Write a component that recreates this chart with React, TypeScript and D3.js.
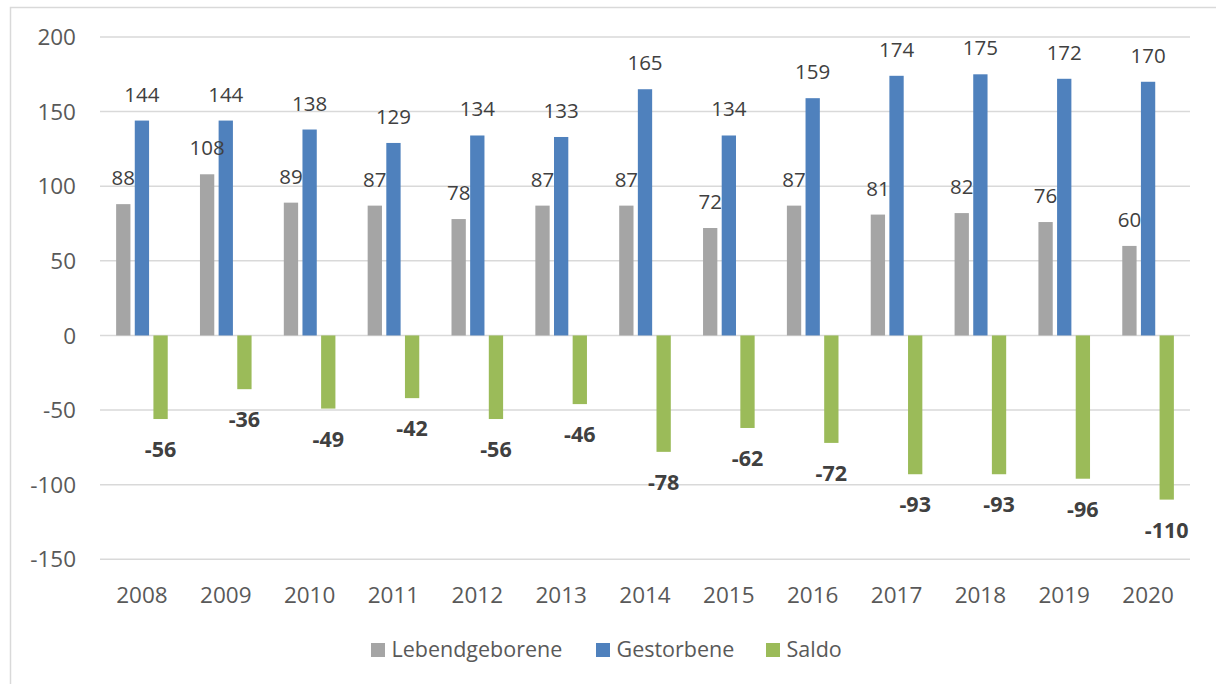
import React from 'react';
import * as d3 from 'd3';

const years = ['2008', '2009', '2010', '2011', '2012', '2013', '2014', '2015', '2016', '2017', '2018', '2019', '2020'];
const lebendgeborene = [88, 108, 89, 87, 78, 87, 87, 72, 87, 81, 82, 76, 60];
const gestorbene = [144, 144, 138, 129, 134, 133, 165, 134, 159, 174, 175, 172, 170];
const saldo = [-56, -36, -49, -42, -56, -46, -78, -62, -72, -93, -93, -96, -110];
const yTicks = [-150, -100, -50, 0, 50, 100, 150, 200];

const seriesNames = ['Lebendgeborene', 'Gestorbene', 'Saldo'];
const seriesColors = ['#A5A5A5', '#4F81BD', '#9BBB59'];
const seriesValues = [lebendgeborene, gestorbene, saldo];

const W = 1216;
const H = 684;
const font = '"Open Sans", "Liberation Sans", sans-serif';

export default function App() {
  const x = d3.scaleBand<string>().domain(years).range([100, 1190]).paddingInner(0).paddingOuter(0);
  const x1 = d3.scaleBand<string>().domain(seriesNames).range([-25.8, 25.8]).paddingInner(0.233);
  const y = d3.scaleLinear().domain([-150, 200]).range([559.3, 37]);

  // legend layout
  const legendX = [371, 596, 766];

  return (
    <svg width={W} height={H} style={{ position: 'absolute', left: 0, top: 0, background: '#fff' }}>
      <rect x={10.5} y={7.5} width={1230} height={700} fill="#fff" stroke="#D9D9D9" strokeWidth={1.5} />

      {/* gridlines */}
      {yTicks.map(t => (
        <line key={t} x1={100} x2={1190} y1={y(t)} y2={y(t)} stroke="#D9D9D9" strokeWidth={1.5} />
      ))}

      {/* y tick labels */}
      {yTicks.map(t => (
        <text key={'yl' + t} x={76} y={y(t)} dy="0.36em" textAnchor="end"
          fontFamily={font} fontSize={22.5} fill="#595959">{t}</text>
      ))}

      {/* x labels */}
      {years.map(yr => (
        <text key={'xl' + yr} x={(x(yr) ?? 0) + x.bandwidth() / 2} y={602.5} textAnchor="middle"
          fontFamily={font} fontSize={22.5} fill="#595959">{yr}</text>
      ))}

      {/* bars */}
      {seriesNames.map((s, si) => (
        <g key={s}>
          {years.map((yr, i) => {
            const v = seriesValues[si][i];
            const bx = (x(yr) ?? 0) + x.bandwidth() / 2 + (x1(s) ?? 0);
            return (
              <rect key={yr} x={bx} width={x1.bandwidth()}
                y={Math.min(y(v), y(0))} height={Math.abs(y(v) - y(0))}
                fill={seriesColors[si]} />
            );
          })}
        </g>
      ))}

      {/* value labels */}
      {seriesNames.map((s, si) => (
        <g key={'lab' + s}>
          {years.map((yr, i) => {
            const v = seriesValues[si][i];
            const cx = (x(yr) ?? 0) + x.bandwidth() / 2 + (x1(s) ?? 0) + x1.bandwidth() / 2;
            const neg = v < 0;
            return (
              <text key={yr} x={cx} y={neg ? y(v) + 38 : y(v) - 19} textAnchor="middle"
                fontFamily={font} fontSize={neg ? 21.5 : 20.5} fontWeight={neg ? 700 : 400}
                fill="#404040">{v}</text>
            );
          })}
        </g>
      ))}

      {/* legend */}
      {seriesNames.map((s, si) => (
        <g key={'lg' + s} transform={`translate(${legendX[si]},0)`}>
          <rect x={0} y={643} width={14} height={14} fill={seriesColors[si]} />
          <text x={20.5} y={657} fontFamily={font} fontSize={21.5} fill="#595959">{s}</text>
        </g>
      ))}
    </svg>
  );
}
